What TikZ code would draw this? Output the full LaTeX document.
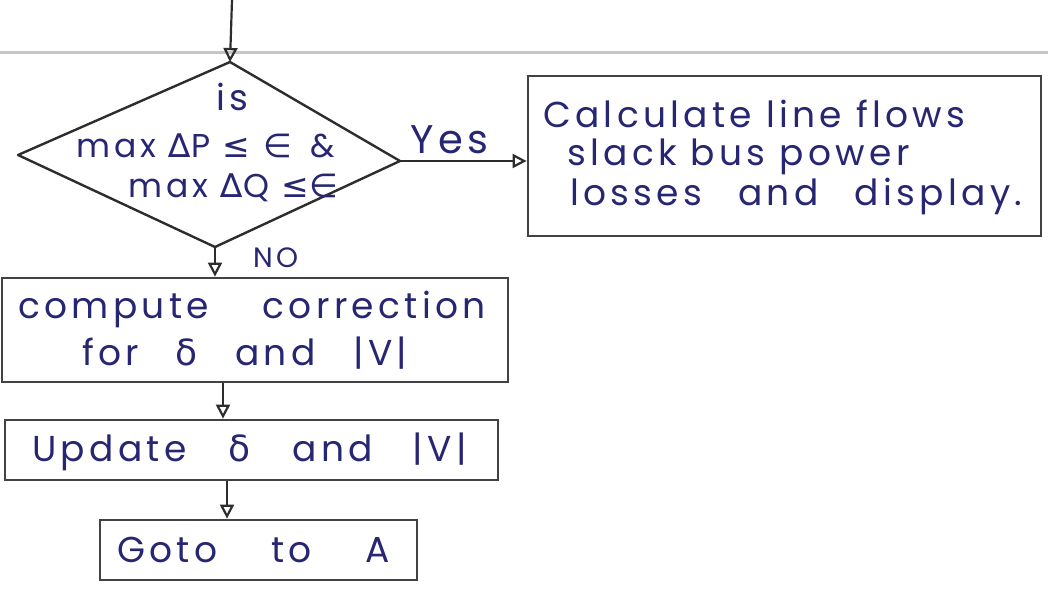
\documentclass[tikz,border=0pt]{standalone}
\usepackage{fontspec}
\setmainfont{Poppins}[LetterSpace=12]
\newfontfamily\symf{DejaVu Sans}
\usetikzlibrary{arrows.meta}
\definecolor{ink}{RGB}{38,38,115}
\definecolor{pen}{RGB}{45,45,45}
\begin{document}
\begin{tikzpicture}[x=1pt,y=-1pt,
  line/.style={draw=pen, line width=2.4pt},
  box/.style={draw=pen!90, line width=2.8pt, rectangle, inner sep=0pt},
  txt/.style={text=ink, font=\fontsize{36}{40}\selectfont, inner sep=0pt, anchor=base west},
  dtxt/.style={txt, font=\fontsize{33}{36}\selectfont},
  arr/.style={draw=pen, line width=2.2pt, -{Triangle[open,length=14pt,width=14pt]}}]
\useasboundingbox (0,0) rectangle (1048,592);
% fold line
\coordinate (gl) at (0,52);
\coordinate (gr) at (1048,52);
\draw[gray!45, line width=3pt] (gl) -- (gr);
% diamond
\coordinate (dtop) at (230,62);
\coordinate (dleft) at (18,155);
\coordinate (dright) at (400,161);
\coordinate (dbot) at (215,247);
\draw[line, line join=round] (dtop) -- (dright) -- (dbot) -- (dleft) -- cycle;
\node[txt] (is) at (216,110) {is};
\node[dtxt] (c1) at (76,157) {max {\symf∆}P {\symf≤} {\symf∈} \hspace{6pt}\&};
\node[dtxt] (c2) at (128,197) {max {\symf∆}Q {\symf≤}{\symf∈}};
% boxes
\node[box, minimum width=513pt, minimum height=160pt] (calc) at (784.5,156) {};
\node[box, minimum width=506pt, minimum height=104pt] (comp) at (255,330) {};
\node[box, minimum width=493pt, minimum height=60pt] (upd) at (251.5,450) {};
\node[box, minimum width=317pt, minimum height=60pt] (goto) at (258.5,550) {};
% box texts
\node[txt] (t1) at (543,127) {Calculate line flows};
\node[txt] (t2) at (567,165) {slack bus power};
\node[txt] (t3) at (570,205) {losses \hspace{22pt}and \hspace{22pt}display.};
\node[txt] (t4) at (18,318) {compute \hspace{40pt}correction};
\node[txt] (t5) at (82,365) {for \hspace{22pt}{\symf δ} \hspace{24pt}and \hspace{24pt}|V|};
\node[txt] (t6) at (32,461) {Update \hspace{28pt}{\symf δ} \hspace{28pt}and \hspace{26pt}|V|};
\node[txt] (t7) at (117,562) {Goto \hspace{40pt}to \hspace{40pt}A};
% labels
\node[txt, font=\fontsize{40}{44}\selectfont] (yes) at (410,153) {Yes};
\node[txt, font=\fontsize{28}{32}\selectfont] (no) at (253,267) {NO};
% connectors
\coordinate (start) at (232,0);
\coordinate (xa) at (223,0);
\coordinate (xb) at (227,0);
\draw[arr] (start) -- (dtop);
\draw[arr] (dright) -- (dright -| calc.west);
\draw[arr] (dbot) -- (dbot |- comp.north);
\draw[arr] (comp.south -| xa) -- (upd.north -| xa);
\draw[arr] (upd.south -| xb) -- (goto.north -| xb);
\end{tikzpicture}
\end{document}
